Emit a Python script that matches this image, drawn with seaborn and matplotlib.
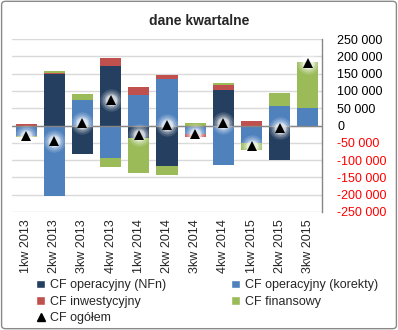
import numpy as np
import matplotlib
matplotlib.use("Agg")
import matplotlib.pyplot as plt
from matplotlib.patches import Patch, FancyBboxPatch
from matplotlib.lines import Line2D
from matplotlib.ticker import FuncFormatter
import seaborn as sns

# quarterly cash flow components
quarters = ["1kw 2013", "2kw 2013", "3kw 2013", "4kw 2013", "1kw 2014", "2kw 2014",
            "3kw 2014", "4kw 2014", "1kw 2015", "2kw 2015", "3kw 2015"]
cf_nfn = [0, 150000, -83000, 173000, -35000, -118000, 0, 102000, 0, -100000, -3000]
cf_korekty = [-29000, -204000, 73000, -95000, 87000, 134000, -26000, -115000, -52000, 56000, 50000]
cf_inwest = [4000, 3000, 0, 22000, 24000, 12000, -6000, 15000, 12000, 0, 0]
cf_finans = [-5000, 5000, 17000, -26000, -103000, -26000, 8000, 6000, -19000, 38000, 133000]
cf_ogolem = [-30000, -46000, 7000, 74000, -27000, 2000, -24000, 8000, -59000, -6000, 180000]

series_names = ["CF operacyjny (NFn)", "CF operacyjny (korekty)", "CF inwestycyjny", "CF finansowy"]
series_vals = [cf_nfn, cf_korekty, cf_inwest, cf_finans]
colors = ["#243F60", "#4F81BD", "#C0504D", "#9BBB59"]

sns.set_style("white")
plt.rcParams["font.family"] = ["Liberation Sans", "DejaVu Sans"]

fig = plt.figure(figsize=(3.98, 3.30), dpi=100)
ax = fig.add_axes([12 / 398, 1 - 212 / 330, 310 / 398, 173 / 330])

# stacked bars: positives stack upward, negatives stack downward
pos_base = np.zeros(len(quarters))
neg_base = np.zeros(len(quarters))
for vals, col in zip(series_vals, colors):
    v = np.asarray(vals, dtype=float)
    bottom = np.where(v >= 0, pos_base, neg_base)
    sns.barplot(x=quarters, y=v, bottom=bottom, color=col, saturation=1,
                width=0.75, linewidth=0, errorbar=None, ax=ax, zorder=3)
    pos_base = pos_base + np.where(v > 0, v, 0)
    neg_base = neg_base + np.where(v < 0, v, 0)

# soft halo behind the total markers
for ms, a in [(16, 0.15), (13, 0.22), (10, 0.35), (8, 0.5)]:
    sns.pointplot(x=quarters, y=cf_ogolem, color="white", marker="o", linestyle="none",
                  markersize=ms, markeredgewidth=0, alpha=a, errorbar=None, ax=ax, zorder=4)
sns.pointplot(x=quarters, y=cf_ogolem, color="black", marker="^", linestyle="none",
              markersize=7.5, markeredgewidth=0, errorbar=None, ax=ax, zorder=5)

ax.set_xlim(-0.5, len(quarters) - 0.5)
ax.set_ylim(-250000, 250000)
ax.set_yticks(np.arange(-250000, 250001, 50000))
ax.yaxis.set_major_formatter(FuncFormatter(lambda v, p: f"{int(v):,}".replace(",", " ")))
ax.yaxis.tick_right()
ax.tick_params(axis="y", length=0, pad=11, labelsize=9)
ax.tick_params(axis="x", length=0, pad=5, labelsize=9)
for lbl in ax.get_yticklabels():
    lbl.set_color("red" if lbl.get_text().startswith("-") else "black")
ax.set_xticks(range(len(quarters)))
ax.set_xticklabels(quarters, rotation=90)
ax.set_xlabel("")
ax.set_ylabel("")

ax.grid(axis="y", color="#D9D9D9", linewidth=1, zorder=0)
ax.set_axisbelow(True)
ax.axhline(0, color="#868686", linewidth=1, zorder=3.5)
for side in ["top", "left", "bottom"]:
    ax.spines[side].set_visible(False)
ax.spines["right"].set_color("#868686")
ax.spines["right"].set_linewidth(1)

fig.text(0.5, 1 - 21 / 330, "dane kwartalne", ha="center", va="center",
         fontsize=10, fontweight="bold")

handles = [
    Patch(facecolor=colors[0], label=series_names[0]),
    Patch(facecolor=colors[2], label=series_names[2]),
    Line2D([], [], marker="^", color="black", linestyle="none", markersize=6, label="CF ogółem"),
    Patch(facecolor=colors[1], label=series_names[1]),
    Patch(facecolor=colors[3], label=series_names[3]),
]
fig.legend(handles=handles, ncol=2, loc="upper left", bbox_to_anchor=(30 / 398, 1 - 273 / 330),
           frameon=False, fontsize=9, handlelength=0.7, handleheight=0.7, handletextpad=0.4,
           columnspacing=5.2, labelspacing=0.35, borderpad=0)

fig.patches.append(FancyBboxPatch((0.004, 0.004), 0.992, 0.992, boxstyle="round,pad=0,rounding_size=0.01",
                                  transform=fig.transFigure, fill=False, edgecolor="#898989",
                                  linewidth=1))

fig.savefig("out.png", dpi=100)
